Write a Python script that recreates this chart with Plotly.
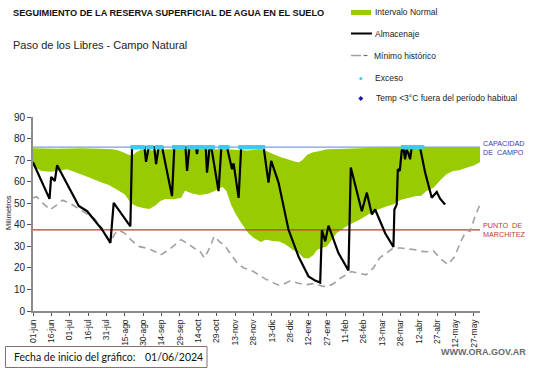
import plotly.graph_objects as go

# ---------------- data (x = days since 01/06/2024) ----------------
tick_days = [0, 15, 30, 45, 60, 75, 90, 105, 120, 135, 150, 165, 180, 195, 210,
             225, 240, 255, 270, 285, 300, 315, 330, 345, 360]
tick_labels = ["01-jun", "16-jun", "01-jul", "16-jul", "31-jul", "15-ago", "30-ago",
               "14-sep", "29-sep", "14-oct", "29-oct", "13-nov", "28-nov", "13-dic",
               "28-dic", "12-ene", "27-ene", "11-feb", "26-feb", "13-mar", "28-mar",
               "12-abr", "27-abr", "12-may", "27-may"]

capacidad_campo = 76.0
punto_marchitez = 37.6

normal_upper_x = [0, 20, 40, 55, 65, 70, 74, 78, 81, 84, 88, 100, 110, 125, 140, 155,
                  165, 175, 185, 190, 196, 202, 208, 213, 217, 220, 224, 228, 235,
                  240, 255, 267, 280, 290, 365]
normal_upper_y = [75.5, 75.3, 75.5, 75.3, 75.0, 74.5, 73.5, 72.5, 72.0, 73.5, 74.8,
                  74.5, 75.0, 75.0, 75.0, 75.0, 74.8, 74.5, 75.0, 74.3, 72.8, 71.5,
                  70.4, 69.5, 68.9, 70.0, 72.5, 73.5, 74.3, 75.0, 75.3, 75.5, 75.8,
                  76.0, 76.0]

normal_lower_x = [0, 7, 14, 20, 28, 39, 48, 56, 62, 68, 75, 80, 85, 90, 95, 100, 104,
                  108, 115, 121, 124, 130, 136, 143, 148, 152, 155, 158, 162, 166,
                  171, 176, 180, 186, 190, 196, 201, 206, 212, 217, 221, 225, 229,
                  232, 240, 244, 248, 256, 262, 267, 273, 278, 284, 289, 294, 300,
                  307, 313, 317, 321, 327, 334, 338, 343, 348, 354, 360, 365]
normal_lower_y = [67.0, 65.0, 64.6, 65.0, 65.8, 63.4, 61.5, 59.6, 58.5, 56.5, 54.0,
                  50.0, 48.5, 47.8, 47.3, 49.0, 51.0, 52.0, 51.8, 52.5, 55.8, 54.5,
                  53.8, 54.4, 55.5, 57.0, 57.5, 55.5, 49.0, 44.5, 40.0, 36.0, 34.0,
                  32.0, 33.0, 32.5, 32.3, 31.0, 28.4, 26.9, 24.6, 24.3, 26.0, 28.4,
                  30.0, 33.0, 36.2, 39.3, 41.0, 42.4, 44.5, 46.3, 47.5, 48.6, 49.4,
                  51.5, 52.5, 53.3, 53.5, 55.6, 57.2, 61.5, 63.5, 65.0, 65.3, 66.5,
                  67.5, 69.0]

almacenaje_x = [0, 13.5, 14.8, 17.8, 19.7, 29.2, 37.4, 44.2, 56.4, 63.2, 65.9, 79.5,
                80.9, 91, 92.3, 94.5, 99, 100.5, 102.6, 105.4, 113.5, 115.4, 124.5,
                125.8, 127.7, 133, 133.9, 134.8, 141, 142.1, 144.2, 145.6, 151.5,
                153.8, 158.4, 162.5, 163.8, 167.9, 170, 188.3, 192.3, 194.5, 200.5,
                208.6, 216.8, 225, 230.4, 234.5, 235.9, 238.6, 241.3, 249.4, 257.6,
                259.5, 264.4, 268.5, 272.6, 276.7, 279.4, 280.5, 287.5, 294.3, 295.1,
                297, 297.9, 299.5, 301.1, 302.4, 303.8, 305, 306.3, 307.9, 309.3,
                316, 320.2, 325.6, 329.7, 332.4, 336.5]
almacenaje_y = [69.0, 52.0, 62.2, 60.3, 67.6, 57.2, 48.7, 46.3, 37.8, 31.6, 50.2, 39.3,
                76.0, 76.0, 69.2, 76.0, 76.0, 68.1, 76.0, 76.0, 53.3, 76.0, 76.0,
                65.0, 76.0, 76.0, 72.8, 76.0, 76.0, 64.2, 76.0, 76.0, 55.6, 76.0,
                76.0, 65.8, 68.5, 52.5, 76.0, 76.0, 59.6, 69.6, 59.6, 37.8, 25.3,
                16.0, 14.1, 13.2, 37.5, 32.3, 39.6, 26.9, 18.8, 66.6, 54.9, 46.3,
                54.9, 44.8, 47.1, 45.5, 36.2, 29.7, 47.1, 49.4, 65.8, 65.0, 74.3,
                76.0, 70.4, 74.8, 73.5, 70.4, 76.0, 76.0, 64.2, 52.5, 55.2, 52.1,
                49.4]

minimo_x = [0, 3, 8, 14, 19, 24, 30, 39, 50, 57, 63, 67, 70, 75, 80, 86, 94, 100,
            104, 110, 116, 121, 127, 132, 136, 140, 144, 148, 152, 157, 162, 167,
            172, 180, 190, 200, 205, 210, 216, 222, 230, 236, 241, 246, 251, 256,
            260, 266, 272, 278, 283, 289, 294, 300, 305, 312, 316, 322, 327, 332,
            339, 344, 350, 354, 357, 361, 365]
minimo_y = [52.5, 53.0, 50.0, 47.0, 49.0, 51.4, 50.0, 47.0, 43.0, 38.0, 32.0, 36.0,
            37.5, 36.0, 33.0, 30.0, 29.0, 27.5, 26.0, 28.0, 31.0, 33.1, 31.0, 29.0,
            28.0, 24.6, 29.0, 34.7, 32.3, 30.0, 26.0, 22.0, 20.0, 18.3, 14.8, 12.1,
            12.5, 14.0, 13.0, 12.1, 12.8, 11.5, 11.3, 13.0, 15.2, 17.0, 18.3, 17.5,
            16.8, 20.0, 24.6, 27.0, 29.2, 29.2, 28.8, 28.4, 27.7, 27.5, 28.0, 24.6,
            21.5, 25.0, 33.0, 37.5, 37.0, 44.0, 49.4]

exceso_start = [81, 94, 101, 115, 127, 142, 153, 169, 302, 308]
exceso_end = [90, 97, 105, 123, 139, 147, 159, 188, 305, 318]

y_ticks = [0, 10, 20, 30, 40, 50, 60, 70, 80, 90]

# ---------------- figure ----------------
FONT = "Liberation Sans, Arial, sans-serif"
fig = go.Figure()

fig.add_trace(go.Scatter(
    x=normal_upper_x + normal_lower_x[::-1],
    y=normal_upper_y + normal_lower_y[::-1],
    fill="toself", fillcolor="#99CC00", mode="none",
    hoverinfo="skip", showlegend=False))

fig.add_trace(go.Scatter(x=[0, 365], y=[capacidad_campo] * 2, mode="lines",
                         line=dict(color="#7D9BE0", width=1.2), showlegend=False))
fig.add_trace(go.Scatter(x=[0, 365], y=[punto_marchitez] * 2, mode="lines",
                         line=dict(color="#C0392B", width=1.2), showlegend=False))

fig.add_trace(go.Scatter(x=minimo_x, y=minimo_y, mode="lines",
                         line=dict(color="#A0A0A0", width=1.6, dash="7px,5px"),
                         showlegend=False))

fig.add_trace(go.Scatter(x=almacenaje_x, y=almacenaje_y, mode="lines",
                         line=dict(color="#000000", width=2.2), showlegend=False))

ex_x = []
for s, e in zip(exceso_start, exceso_end):
    ex_x += list(range(s, e + 1))
fig.add_trace(go.Scatter(x=ex_x, y=[capacidad_campo] * len(ex_x), mode="markers",
                         marker=dict(symbol="square", size=4, color="#3CCBF0",
                                     line=dict(width=0)),
                         showlegend=False))

fig.update_layout(
    width=541, height=368,
    margin=dict(l=33, r=61, t=117, b=57, autoexpand=False),
    paper_bgcolor="white", plot_bgcolor="white",
    font=dict(family=FONT, color="#222222"),
    xaxis=dict(range=[0, 365], tickmode="array", tickvals=tick_days,
               ticktext=tick_labels, tickangle=-90, ticks="outside", ticklen=3,
               tickcolor="#555555", tickfont=dict(size=8.5, color="#222222"),
               showgrid=False, zeroline=False, showline=True, linecolor="#8C8C8C",
               linewidth=2, automargin=False),
    yaxis=dict(range=[0, 90], tickmode="array", tickvals=y_ticks, ticks="outside",
               ticklen=4, tickcolor="#555555", tickfont=dict(size=10, color="#222222"),
               showgrid=False, zeroline=False, showline=True, linecolor="#8C8C8C",
               linewidth=2, automargin=False),
)

ann = []
shapes = []


def text(x, y, t, size, color="#222222", bold=False, family=FONT, xanchor="left"):
    if bold:
        t = "<b>" + t + "</b>"
    ann.append(dict(x=x, y=y, xref="paper", yref="paper", text=t, showarrow=False,
                    xanchor=xanchor, yanchor="middle",
                    font=dict(size=size, color=color, family=family)))


W, H = 541.0, 368.0
L, R, T, B = 33, 61, 117, 57
PW, PH = W - L - R, H - T - B


def px(xp):
    return (xp - L) / PW


def py(yp):
    return (H - B - yp) / PH


# Titles
text(px(11), py(13), "SEGUIMIENTO DE LA RESERVA SUPERFICIAL DE AGUA EN EL SUELO", 9.2, "#111111", bold=True)
text(px(11), py(45), "Paso de los Libres - Campo Natural", 11, "#222222")

# Y axis title
text(px(8), py(213), "Milímetros", 7.5, "#222222", xanchor="center")
ann[-1]["textangle"] = -90

# Manual legend
LF = 8.5
shapes.append(dict(type="rect", xref="paper", yref="paper", x0=px(351), x1=px(371),
                   y0=py(15), y1=py(10), fillcolor="#99CC00", line=dict(width=0)))
text(px(372.5), py(12.5), "Intervalo Normal", LF)
shapes.append(dict(type="line", xref="paper", yref="paper", x0=px(351), x1=px(372),
                   y0=py(33.5), y1=py(33.5), line=dict(color="#000000", width=2)))
text(px(372.5), py(34), "Almacenaje", LF)
shapes.append(dict(type="line", xref="paper", yref="paper", x0=px(351), x1=px(361),
                   y0=py(55.5), y1=py(55.5), line=dict(color="#A0A0A0", width=1.5)))
shapes.append(dict(type="line", xref="paper", yref="paper", x0=px(363.5), x1=px(367.5),
                   y0=py(55.5), y1=py(55.5), line=dict(color="#707070", width=1.2)))
text(px(371.5), py(55.5), "Mínimo histórico", LF)
shapes.append(dict(type="circle", xref="paper", yref="paper", x0=px(359.3), x1=px(362.3),
                   y0=py(80), y1=py(77), fillcolor="#3CCBF0", line=dict(width=0)))
text(px(372.5), py(78), "Exceso", LF)
shapes.append(dict(type="path", xref="paper", yref="paper",
                   path="M {} {} L {} {} L {} {} L {} {} Z".format(
                       px(360.8), py(96), px(363.3), py(98.5), px(360.8), py(101),
                       px(358.3), py(98.5)),
                   fillcolor="#1A1A9A", line=dict(width=0)))
text(px(373.5), py(98.5), "Temp <3°C fuera del período habitual", LF)

# Line labels
text(px(481), py(147.5), "CAPACIDAD<br>DE  CAMPO", 7.2, "#3B3BB5")
text(px(481), py(229.5), "PUNTO  DE<br>MARCHITEZ", 7.2, "#C0392B")
for a in ann[-2:]:
    a["align"] = "left"

# Bottom box
shapes.append(dict(type="rect", xref="paper", yref="paper", x0=px(5.5), x1=px(207),
                   y0=py(367.5), y1=py(346.5), line=dict(color="#8B6F6F", width=1),
                   fillcolor="white"))
text(px(12), py(357), "Fecha de inicio del gráfico:", 10.5, "#111111", family="Lato, sans-serif")
text(px(143), py(357), "01/06/2024", 10.5, "#111111", family="Lato, sans-serif")
text(px(528), py(352), "WWW.ORA.GOV.AR", 9, "#6A6A6A", bold=True, xanchor="right")

fig.update_layout(annotations=ann, shapes=shapes)
fig.write_html("out.html", config={"displayModeBar": False},
               post_script="document.body.style.margin='0';document.body.style.overflow='hidden';")
